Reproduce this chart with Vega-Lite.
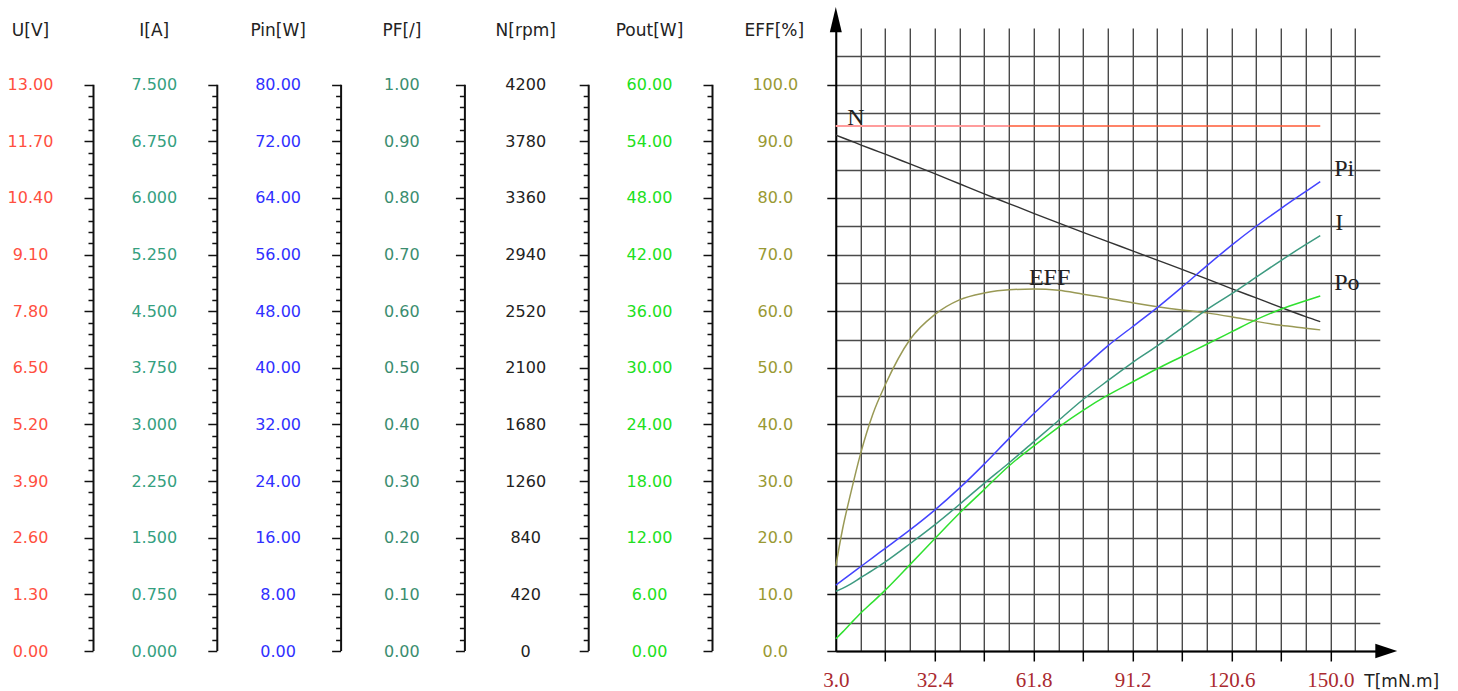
{
  "$schema": "https://vega.github.io/schema/vega-lite/v6.json",
  "background": "white",
  "padding": {"left": 7, "top": 7, "right": 5, "bottom": 0},
  "bounds": "flush",
  "spacing": 122.8,
  "config": {
    "view": {"stroke": null},
    "axisY": {
      "domain": false,
      "grid": false,
      "tickSize": 9,
      "tickColor": "#111",
      "tickWidth": 1.5,
      "labelAlign": "center",
      "labelBaseline": "middle",
      "labelPadding": 54,
      "labelFont": "DejaVu Sans",
      "labelFontSize": 16,
      "labelOverlap": false,
      "labelBound": false,
      "titleAngle": 0,
      "titleAlign": "center",
      "titleBaseline": "middle",
      "titleX": -63,
      "titleY": 2,
      "titleFont": "DejaVu Sans",
      "titleFontSize": 17,
      "titleFontWeight": "normal",
      "titleColor": "#222"
    }
  },
  "datasets": {
    "rulers": [
      {"name": "U[V]", "lo": 0, "hi": 13},
      {"name": "I[A]", "lo": 0, "hi": 7.5},
      {"name": "Pin[W]", "lo": 0, "hi": 80},
      {"name": "PF[/]", "lo": 0, "hi": 1},
      {"name": "N[rpm]", "lo": 0, "hi": 4200},
      {"name": "Pout[W]", "lo": 0, "hi": 60}
    ],
    "curves": [
      {"T": 3, "U": 12.05, "N": 3825, "Pin": 9.3, "I": 0.79, "Pout": 1.3, "EFF": 15.0},
      {"T": 5, "U": 12.05, "N": 3806, "Pin": 10.0, "I": 0.83, "Pout": 2.0, "EFF": 21.5},
      {"T": 7.5, "U": 12.05, "N": 3782, "Pin": 10.9, "I": 0.89, "Pout": 2.95, "EFF": 28.0},
      {"T": 10.35, "U": 12.05, "N": 3754, "Pin": 11.9, "I": 0.97, "Pout": 4.0, "EFF": 34.8},
      {"T": 14, "U": 12.05, "N": 3719, "Pin": 13.2, "I": 1.07, "Pout": 5.2, "EFF": 41.8},
      {"T": 17.7, "U": 12.05, "N": 3684, "Pin": 14.5, "I": 1.18, "Pout": 6.45, "EFF": 47.0},
      {"T": 25.05, "U": 12.05, "N": 3612, "Pin": 17.1, "I": 1.42, "Pout": 9.15, "EFF": 55.0},
      {"T": 32.4, "U": 12.05, "N": 3540, "Pin": 19.9, "I": 1.67, "Pout": 11.9, "EFF": 59.4},
      {"T": 39.75, "U": 12.05, "N": 3465, "Pin": 23.0, "I": 1.94, "Pout": 14.6, "EFF": 62.0},
      {"T": 47.1, "U": 12.05, "N": 3390, "Pin": 26.4, "I": 2.22, "Pout": 17.1, "EFF": 63.2},
      {"T": 54.45, "U": 12.05, "N": 3318, "Pin": 30.0, "I": 2.49, "Pout": 19.6, "EFF": 63.8},
      {"T": 61.8, "U": 12.05, "N": 3246, "Pin": 33.5, "I": 2.77, "Pout": 21.7, "EFF": 63.9},
      {"T": 69.15, "U": 12.05, "N": 3175, "Pin": 36.8, "I": 3.05, "Pout": 23.7, "EFF": 63.7},
      {"T": 76.5, "U": 12.05, "N": 3105, "Pin": 40.0, "I": 3.33, "Pout": 25.5, "EFF": 63.0},
      {"T": 83.85, "U": 12.05, "N": 3036, "Pin": 43.1, "I": 3.58, "Pout": 27.1, "EFF": 62.3},
      {"T": 91.2, "U": 12.05, "N": 2967, "Pin": 45.8, "I": 3.82, "Pout": 28.5, "EFF": 61.5},
      {"T": 98.55, "U": 12.05, "N": 2898, "Pin": 48.5, "I": 4.04, "Pout": 29.9, "EFF": 60.8},
      {"T": 105.9, "U": 12.05, "N": 2830, "Pin": 51.4, "I": 4.28, "Pout": 31.2, "EFF": 60.2},
      {"T": 113.25, "U": 12.05, "N": 2760, "Pin": 54.4, "I": 4.52, "Pout": 32.5, "EFF": 59.7},
      {"T": 120.6, "U": 12.05, "N": 2688, "Pin": 57.3, "I": 4.73, "Pout": 33.8, "EFF": 59.0},
      {"T": 127.95, "U": 12.05, "N": 2618, "Pin": 60.0, "I": 4.95, "Pout": 35.1, "EFF": 58.2},
      {"T": 135.3, "U": 12.05, "N": 2548, "Pin": 62.5, "I": 5.17, "Pout": 36.2, "EFF": 57.5},
      {"T": 142.65, "U": 12.05, "N": 2480, "Pin": 64.9, "I": 5.38, "Pout": 37.1, "EFF": 57.0},
      {"T": 147, "U": 12.05, "N": 2443, "Pin": 66.3, "I": 5.50, "Pout": 37.6, "EFF": 56.7}
    ]
  },
  "hconcat": [
    {
      "width": 1,
      "height": 623,
      "data": {"name": "rulers"},
      "transform": [{"filter": "datum.name === 'U[V]'"}],
      "mark": {"type": "rule", "color": "#111", "strokeWidth": 2},
      "encoding": {
        "y": {
          "field": "lo",
          "type": "quantitative",
          "scale": {"domain": [0, 14.3], "nice": false},
          "axis": {
            "title": "U[V]",
            "format": ".2f",
            "labelColor": "#ff4f3f",
            "values": [0, 0.26, 0.52, 0.78, 1.04, 1.3, 1.56, 1.82, 2.08, 2.34, 2.6, 2.86, 3.12, 3.38, 3.64, 3.9, 4.16, 4.42, 4.68, 4.94, 5.2, 5.46, 5.72, 5.98, 6.24, 6.5, 6.76, 7.02, 7.28, 7.54, 7.8, 8.06, 8.32, 8.58, 8.84, 9.1, 9.36, 9.62, 9.88, 10.14, 10.4, 10.66, 10.92, 11.18, 11.44, 11.7, 11.96, 12.22, 12.48, 12.74, 13],
            "labelExpr": "round(datum.index * 50) % 5 === 0 ? datum.label : ''",
            "tickDash": {"condition": {"test": "round(datum.index * 50) % 5 !== 0", "value": [5, 20]}, "value": []}
          }
        },
        "y2": {"field": "hi"}
      }
    },
    {
      "width": 1,
      "height": 623,
      "data": {"name": "rulers"},
      "transform": [{"filter": "datum.name === 'I[A]'"}],
      "mark": {"type": "rule", "color": "#111", "strokeWidth": 2},
      "encoding": {
        "y": {
          "field": "lo",
          "type": "quantitative",
          "scale": {"domain": [0, 8.25], "nice": false},
          "axis": {
            "title": "I[A]",
            "format": ".3f",
            "labelColor": "#35a080",
            "values": [0, 0.15, 0.3, 0.45, 0.6, 0.75, 0.9, 1.05, 1.2, 1.35, 1.5, 1.65, 1.8, 1.95, 2.1, 2.25, 2.4, 2.55, 2.7, 2.85, 3, 3.15, 3.3, 3.45, 3.6, 3.75, 3.9, 4.05, 4.2, 4.35, 4.5, 4.65, 4.8, 4.95, 5.1, 5.25, 5.4, 5.55, 5.7, 5.85, 6, 6.15, 6.3, 6.45, 6.6, 6.75, 6.9, 7.05, 7.2, 7.35, 7.5],
            "labelExpr": "round(datum.index * 50) % 5 === 0 ? datum.label : ''",
            "tickDash": {"condition": {"test": "round(datum.index * 50) % 5 !== 0", "value": [5, 20]}, "value": []}
          }
        },
        "y2": {"field": "hi"}
      }
    },
    {
      "width": 1,
      "height": 623,
      "data": {"name": "rulers"},
      "transform": [{"filter": "datum.name === 'Pin[W]'"}],
      "mark": {"type": "rule", "color": "#111", "strokeWidth": 2},
      "encoding": {
        "y": {
          "field": "lo",
          "type": "quantitative",
          "scale": {"domain": [0, 88], "nice": false},
          "axis": {
            "title": "Pin[W]",
            "format": ".2f",
            "labelColor": "#3030ff",
            "values": [0, 1.6, 3.2, 4.8, 6.4, 8, 9.6, 11.2, 12.8, 14.4, 16, 17.6, 19.2, 20.8, 22.4, 24, 25.6, 27.2, 28.8, 30.4, 32, 33.6, 35.2, 36.8, 38.4, 40, 41.6, 43.2, 44.8, 46.4, 48, 49.6, 51.2, 52.8, 54.4, 56, 57.6, 59.2, 60.8, 62.4, 64, 65.6, 67.2, 68.8, 70.4, 72, 73.6, 75.2, 76.8, 78.4, 80],
            "labelExpr": "round(datum.index * 50) % 5 === 0 ? datum.label : ''",
            "tickDash": {"condition": {"test": "round(datum.index * 50) % 5 !== 0", "value": [5, 20]}, "value": []}
          }
        },
        "y2": {"field": "hi"}
      }
    },
    {
      "width": 1,
      "height": 623,
      "data": {"name": "rulers"},
      "transform": [{"filter": "datum.name === 'PF[/]'"}],
      "mark": {"type": "rule", "color": "#111", "strokeWidth": 2},
      "encoding": {
        "y": {
          "field": "lo",
          "type": "quantitative",
          "scale": {"domain": [0, 1.1], "nice": false},
          "axis": {
            "title": "PF[/]",
            "format": ".2f",
            "labelColor": "#3b8d6f",
            "values": [0, 0.02, 0.04, 0.06, 0.08, 0.1, 0.12, 0.14, 0.16, 0.18, 0.2, 0.22, 0.24, 0.26, 0.28, 0.3, 0.32, 0.34, 0.36, 0.38, 0.4, 0.42, 0.44, 0.46, 0.48, 0.5, 0.52, 0.54, 0.56, 0.58, 0.6, 0.62, 0.64, 0.66, 0.68, 0.7, 0.72, 0.74, 0.76, 0.78, 0.8, 0.82, 0.84, 0.86, 0.88, 0.9, 0.92, 0.94, 0.96, 0.98, 1],
            "labelExpr": "round(datum.index * 50) % 5 === 0 ? datum.label : ''",
            "tickDash": {"condition": {"test": "round(datum.index * 50) % 5 !== 0", "value": [5, 20]}, "value": []}
          }
        },
        "y2": {"field": "hi"}
      }
    },
    {
      "width": 1,
      "height": 623,
      "data": {"name": "rulers"},
      "transform": [{"filter": "datum.name === 'N[rpm]'"}],
      "mark": {"type": "rule", "color": "#111", "strokeWidth": 2},
      "encoding": {
        "y": {
          "field": "lo",
          "type": "quantitative",
          "scale": {"domain": [0, 4620], "nice": false},
          "axis": {
            "title": "N[rpm]",
            "format": "d",
            "labelColor": "#222",
            "values": [0, 84, 168, 252, 336, 420, 504, 588, 672, 756, 840, 924, 1008, 1092, 1176, 1260, 1344, 1428, 1512, 1596, 1680, 1764, 1848, 1932, 2016, 2100, 2184, 2268, 2352, 2436, 2520, 2604, 2688, 2772, 2856, 2940, 3024, 3108, 3192, 3276, 3360, 3444, 3528, 3612, 3696, 3780, 3864, 3948, 4032, 4116, 4200],
            "labelExpr": "round(datum.index * 50) % 5 === 0 ? datum.label : ''",
            "tickDash": {"condition": {"test": "round(datum.index * 50) % 5 !== 0", "value": [5, 20]}, "value": []}
          }
        },
        "y2": {"field": "hi"}
      }
    },
    {
      "width": 1,
      "height": 623,
      "data": {"name": "rulers"},
      "transform": [{"filter": "datum.name === 'Pout[W]'"}],
      "mark": {"type": "rule", "color": "#111", "strokeWidth": 2},
      "encoding": {
        "y": {
          "field": "lo",
          "type": "quantitative",
          "scale": {"domain": [0, 66], "nice": false},
          "axis": {
            "title": "Pout[W]",
            "format": ".2f",
            "labelColor": "#20e020",
            "values": [0, 1.2, 2.4, 3.6, 4.8, 6, 7.2, 8.4, 9.6, 10.8, 12, 13.2, 14.4, 15.6, 16.8, 18, 19.2, 20.4, 21.6, 22.8, 24, 25.2, 26.4, 27.6, 28.8, 30, 31.2, 32.4, 33.6, 34.8, 36, 37.2, 38.4, 39.6, 40.8, 42, 43.2, 44.4, 45.6, 46.8, 48, 49.2, 50.4, 51.6, 52.8, 54, 55.2, 56.4, 57.6, 58.8, 60],
            "labelExpr": "round(datum.index * 50) % 5 === 0 ? datum.label : ''",
            "tickDash": {"condition": {"test": "round(datum.index * 50) % 5 !== 0", "value": [5, 20]}, "value": []}
          }
        },
        "y2": {"field": "hi"}
      }
    },
    {
      "width": 544,
      "height": 623,
      "data": {"name": "curves"},
      "layer": [
        {
          "encoding": {
            "x": {
              "field": "T",
              "type": "quantitative",
              "scale": {"domain": [3, 164.7], "nice": false, "zero": false},
              "axis": {
                "values": [3, 10.35, 17.7, 25.05, 32.4, 39.75, 47.1, 54.45, 61.8, 69.15, 76.5, 83.85, 91.2, 98.55, 105.9, 113.25, 120.6, 127.95, 135.3, 142.65, 150, 157.35],
                "tickCount": 40,
                "format": ".1f",
                "labelExpr": "round(datum.index * 21) % 4 === 0 ? datum.label : ''",
                "grid": true,
                "gridColor": "#4a4a4a",
                "gridWidth": 1.4,
                "domain": true,
                "domainColor": "#000",
                "domainWidth": 2,
                "tickSize": 10,
                "tickColor": "#000",
                "tickWidth": 1.5,
                "tickOpacity": {"condition": {"test": "round(datum.index * 21) % 2 === 0 && datum.index > 0", "value": 1}, "value": 0},
                "labelFont": "Liberation Serif",
                "labelFontSize": 21,
                "labelColor": "#aa2a30",
                "labelPadding": 8,
                "labelFlush": false,
                "labelOverlap": false,
                "labelBound": false,
                "title": "T[mN.m]",
                "titleX": 528,
                "titleY": 30,
                "titleAlign": "left",
                "titleBaseline": "middle",
                "titleFont": "DejaVu Sans",
                "titleFontSize": 17,
                "titleFontWeight": "normal",
                "titleColor": "#222"
              }
            },
            "y": {
              "field": "EFF",
              "type": "quantitative",
              "scale": {"domain": [0, 110], "nice": false},
              "axis": {
                "title": "EFF[%]",
                "values": [0, 5, 10, 15, 20, 25, 30, 35, 40, 45, 50, 55, 60, 65, 70, 75, 80, 85, 90, 95, 100, 105],
                "tickCount": 40,
                "format": ".1f",
                "labelExpr": "datum.value % 10 === 0 && datum.value <= 100 ? datum.label : ''",
                "labelColor": "#999933",
                "labelPadding": 52,
                "titleX": -62,
                "domain": true,
                "domainColor": "#000",
                "domainWidth": 2,
                "grid": true,
                "gridColor": "#4a4a4a",
                "gridWidth": 1.4,
                "tickOpacity": {"condition": {"test": "datum.value % 10 === 0 && datum.value <= 100", "value": 1}, "value": 0}
              }
            }
          },
          "layer": [
            {"mark": {"type": "line", "color": "#999955", "strokeWidth": 1.5, "interpolate": "monotone"}},
            {
              "transform": [{"filter": "datum.T === 61.8"}],
              "mark": {"type": "text", "text": "EFF", "font": "Liberation Serif", "fontSize": 24, "color": "#222", "align": "center", "baseline": "middle", "dx": 16, "dy": -11}
            }
          ]
        },
        {
          "transform": [{"filter": "datum.T === 3"}],
          "encoding": {
            "y": {"datum": 110, "type": "quantitative", "scale": {"domain": [0, 110], "nice": false}, "axis": null}
          },
          "layer": [
            {
              "mark": {"type": "point", "shape": "M-1,0.7L0,-3.5L1,0.7Z", "size": 144, "filled": true, "color": "#000", "opacity": 1},
              "encoding": {
                "x": {"datum": 3, "type": "quantitative"}
              }
            }
          ]
        },
        {
          "transform": [{"filter": "datum.T === 3"}],
          "encoding": {
            "y": {"datum": 0, "type": "quantitative", "scale": {"domain": [0, 110], "nice": false}, "axis": null}
          },
          "layer": [
            {
              "mark": {"type": "point", "shape": "M-0.75,-1.2L2.9,0L-0.75,1.2Z", "size": 144, "filled": true, "color": "#000", "opacity": 1},
              "encoding": {
                "x": {"datum": 164.7, "type": "quantitative"}
              }
            }
          ]
        },
        {
          "encoding": {
            "x": {"field": "T", "type": "quantitative"},
            "y": {"field": "U", "type": "quantitative", "scale": {"domain": [0, 14.3], "nice": false}, "axis": null}
          },
          "layer": [
            {"mark": {"type": "line", "color": "#ff5a36", "strokeWidth": 1.5}},
            {
              "transform": [{"filter": "datum.T <= 54.45"}],
              "mark": {"type": "line", "color": "#ff9c9c", "strokeWidth": 2}
            }
          ]
        },
        {
          "encoding": {
            "x": {"field": "T", "type": "quantitative"},
            "y": {"field": "N", "type": "quantitative", "scale": {"domain": [0, 4620], "nice": false}, "axis": null}
          },
          "layer": [
            {"mark": {"type": "line", "color": "#333333", "strokeWidth": 1.4, "interpolate": "monotone"}},
            {
              "transform": [{"filter": "datum.T === 3"}],
              "mark": {"type": "text", "text": "N", "font": "Liberation Serif", "fontSize": 24, "color": "#222", "align": "center", "baseline": "middle", "dx": 20, "dy": -17}
            }
          ]
        },
        {
          "encoding": {
            "x": {"field": "T", "type": "quantitative"},
            "y": {"field": "Pin", "type": "quantitative", "scale": {"domain": [0, 88], "nice": false}, "axis": null}
          },
          "layer": [
            {"mark": {"type": "line", "color": "#4444ff", "strokeWidth": 1.5, "interpolate": "monotone"}},
            {
              "transform": [{"filter": "datum.T === 147"}],
              "mark": {"type": "text", "text": "Pi", "font": "Liberation Serif", "fontSize": 24, "color": "#222", "align": "left", "baseline": "middle", "dx": 14, "dy": -13}
            }
          ]
        },
        {
          "encoding": {
            "x": {"field": "T", "type": "quantitative"},
            "y": {"field": "I", "type": "quantitative", "scale": {"domain": [0, 8.25], "nice": false}, "axis": null}
          },
          "layer": [
            {"mark": {"type": "line", "color": "#3d9a80", "strokeWidth": 1.5, "interpolate": "monotone"}},
            {
              "transform": [{"filter": "datum.T === 147"}],
              "mark": {"type": "text", "text": "I", "font": "Liberation Serif", "fontSize": 24, "color": "#222", "align": "left", "baseline": "middle", "dx": 15, "dy": -13}
            }
          ]
        },
        {
          "encoding": {
            "x": {"field": "T", "type": "quantitative"},
            "y": {"field": "Pout", "type": "quantitative", "scale": {"domain": [0, 66], "nice": false}, "axis": null}
          },
          "layer": [
            {"mark": {"type": "line", "color": "#30e030", "strokeWidth": 1.5, "interpolate": "monotone"}},
            {
              "transform": [{"filter": "datum.T === 147"}],
              "mark": {"type": "text", "text": "Po", "font": "Liberation Serif", "fontSize": 24, "color": "#222", "align": "left", "baseline": "middle", "dx": 14, "dy": -13}
            }
          ]
        }
      ],
      "resolve": {"scale": {"y": "independent"}}
    }
  ]
}
